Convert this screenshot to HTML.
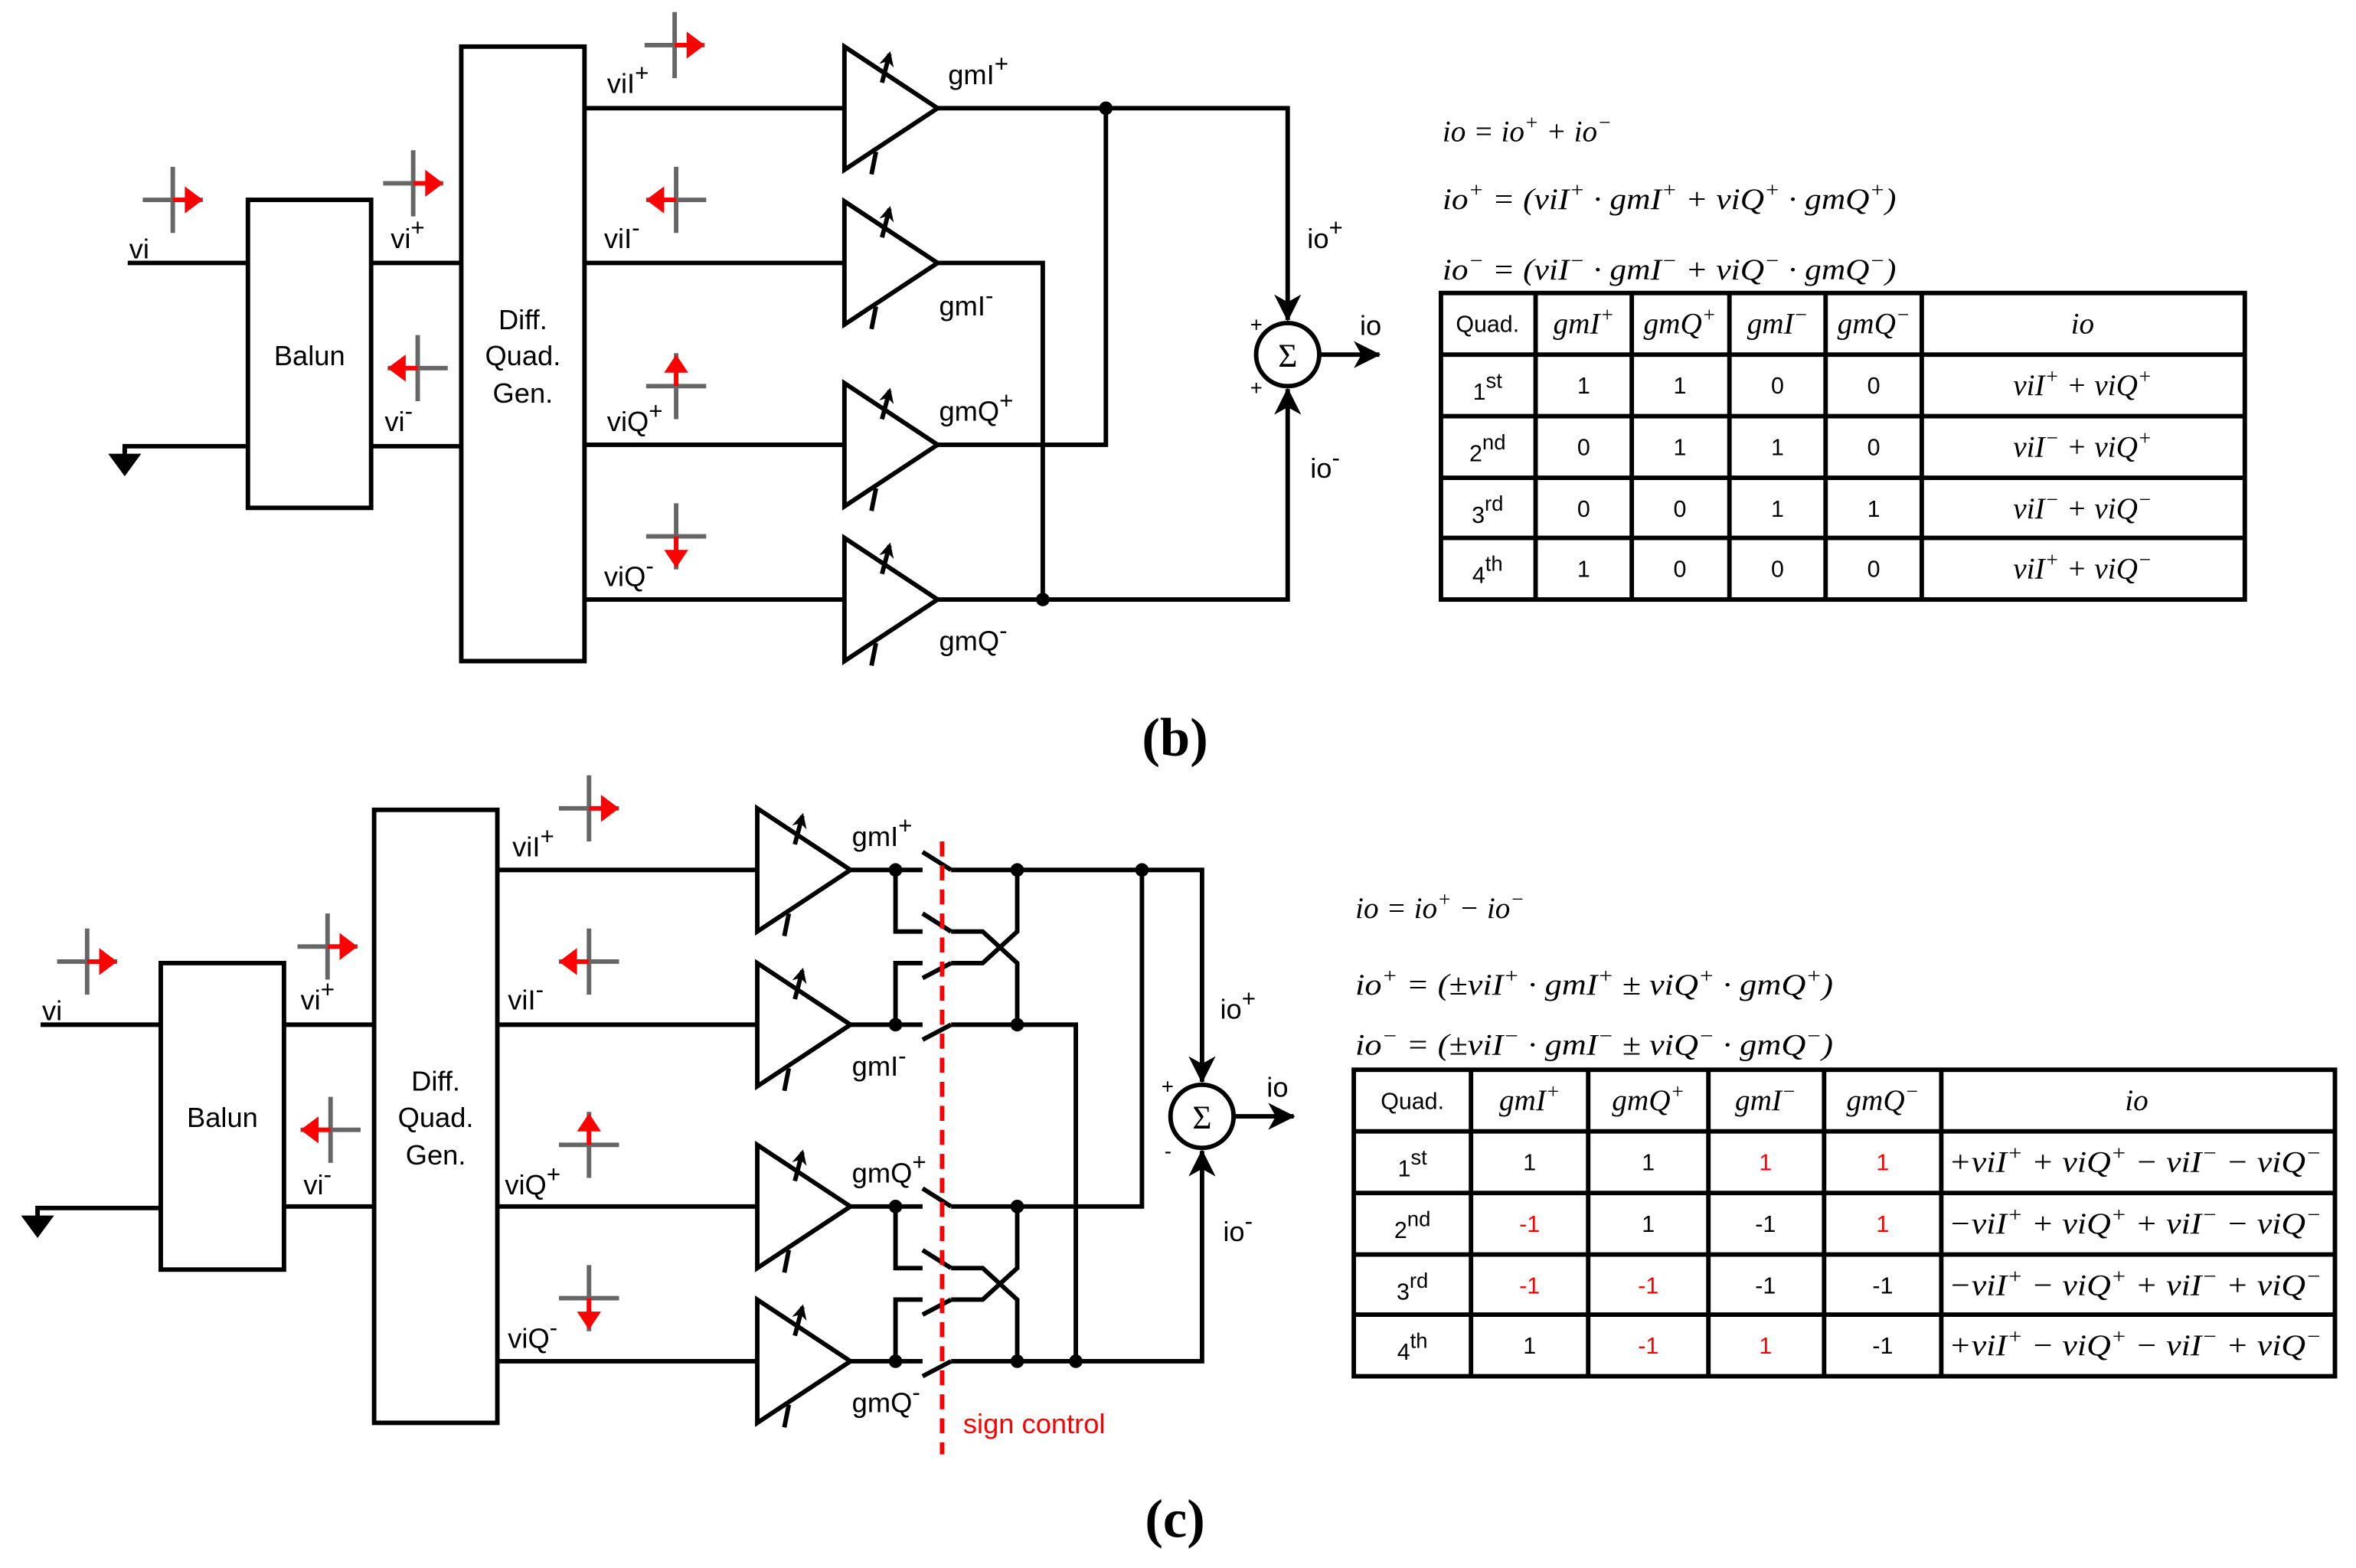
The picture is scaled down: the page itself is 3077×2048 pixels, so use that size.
<!DOCTYPE html>
<html><head><meta charset="utf-8"><style>
html,body{margin:0;padding:0;background:#fff;}
svg{display:block;}
.s{font-family:"Liberation Sans",sans-serif;}
.m{font-family:"Liberation Serif",serif;font-style:italic;}
</style></head><body>
<svg width="3077" height="2048" viewBox="0 0 1568 1043.6" xmlns="http://www.w3.org/2000/svg">
<defs>
<marker id="ah" markerWidth="10" markerHeight="10" refX="8" refY="5" orient="auto" markerUnits="userSpaceOnUse"><path d="M0,0 L10,5 L0,10 L3,5 Z" fill="#000"/></marker>
<marker id="ab" markerWidth="20" markerHeight="18" refX="17" refY="9" orient="auto" markerUnits="userSpaceOnUse"><path d="M0,0 L18,9 L0,18 L5,9 Z" fill="#000"/></marker>
<g id="amp">
<path d="M0,-41 L62,0 L0,41 Z" fill="#fff" stroke="#000" stroke-width="3"/>
<line x1="18" y1="44" x2="21" y2="29" stroke="#000" stroke-width="3"/>
<line x1="25" y1="-17" x2="30" y2="-36" stroke="#000" stroke-width="3" marker-end="url(#ah)"/>
</g>
<g id="xr"><line x1="-20" y1="0" x2="20" y2="0" stroke="#666" stroke-width="3"/><line x1="0" y1="-22" x2="0" y2="22" stroke="#666" stroke-width="3"/><line x1="0" y1="0" x2="10" y2="0" stroke="red" stroke-width="3"/><path d="M8,-9 L20,0 L8,9 Z" fill="red"/></g>
<g id="xl"><line x1="-20" y1="0" x2="20" y2="0" stroke="#666" stroke-width="3"/><line x1="0" y1="-22" x2="0" y2="22" stroke="#666" stroke-width="3"/><line x1="0" y1="0" x2="-10" y2="0" stroke="red" stroke-width="3"/><path d="M-8,-9 L-20,0 L-8,9 Z" fill="red"/></g>
<g id="xu"><line x1="-20" y1="0" x2="20" y2="0" stroke="#666" stroke-width="3"/><line x1="0" y1="-22" x2="0" y2="22" stroke="#666" stroke-width="3"/><line x1="0" y1="0" x2="0" y2="-10" stroke="red" stroke-width="3"/><path d="M-8,-9 L0,-21 L8,-9 Z" fill="red"/></g>
<g id="xd"><line x1="-20" y1="0" x2="20" y2="0" stroke="#666" stroke-width="3"/><line x1="0" y1="-22" x2="0" y2="22" stroke="#666" stroke-width="3"/><line x1="0" y1="0" x2="0" y2="10" stroke="red" stroke-width="3"/><path d="M-8,9 L0,21 L8,9 Z" fill="red"/></g>
<g id="gnd"><line x1="0" y1="0" x2="0" y2="-4" stroke="#000" stroke-width="3"/><path d="M-11,-1 L11,-1 L0,14 Z" fill="#000"/></g>
</defs>

<!-- ============ (b) ============ -->
<g stroke="#000" stroke-width="3" fill="none">
<line x1="85" y1="175" x2="165" y2="175"/>
<polyline points="165,297 83,297 83,301"/>
<rect x="165" y="133" width="82" height="205" fill="#fff"/>
<line x1="247" y1="175" x2="307" y2="175"/>
<line x1="247" y1="297" x2="307" y2="297"/>
<rect x="307" y="31" width="82" height="409" fill="#fff"/>
<line x1="389" y1="72" x2="562" y2="72"/>
<line x1="389" y1="175" x2="562" y2="175"/>
<line x1="389" y1="296" x2="562" y2="296"/>
<line x1="389" y1="399" x2="562" y2="399"/>
<polyline points="624,72 857,72 857,213" marker-end="url(#ab)"/>
<polyline points="624,296 736,296 736,72"/>
<polyline points="624,175 694,175 694,399"/>
<polyline points="624,399 857,399 857,259" marker-end="url(#ab)"/>
<circle cx="857" cy="236" r="21" fill="#fff"/>
<line x1="878" y1="236" x2="918" y2="236" marker-end="url(#ab)"/>
</g>
<use href="#gnd" x="83" y="303"/>
<circle cx="736" cy="72" r="4.5"/><circle cx="694" cy="399" r="4.5"/>
<use href="#amp" x="562" y="72"/><use href="#amp" x="562" y="175"/><use href="#amp" x="562" y="296"/><use href="#amp" x="562" y="399"/>
<use href="#xr" x="115" y="133"/><use href="#xr" x="275" y="122"/><use href="#xl" x="278" y="245"/>
<use href="#xr" x="449" y="30"/><use href="#xl" x="450" y="133"/><use href="#xu" x="450" y="257"/><use href="#xd" x="450" y="357"/>
<g class="s" font-size="18.5" fill="#000">
<text x="86" y="172">vi</text>
<text x="260" y="165">vi<tspan font-size="16" dy="-8">+</tspan></text>
<text x="256" y="287">vi<tspan font-size="16" dy="-8">-</tspan></text>
<text x="206" y="243" text-anchor="middle">Balun</text>
<text x="348" y="219" text-anchor="middle">Diff.</text>
<text x="348" y="243" text-anchor="middle">Quad.</text>
<text x="348" y="268" text-anchor="middle">Gen.</text>
<text x="404" y="62">viI<tspan font-size="16" dy="-8">+</tspan></text>
<text x="402" y="165">viI<tspan font-size="16" dy="-8">-</tspan></text>
<text x="404" y="287">viQ<tspan font-size="16" dy="-8">+</tspan></text>
<text x="402" y="390">viQ<tspan font-size="16" dy="-8">-</tspan></text>
<text x="631" y="56">gmI<tspan font-size="16" dy="-8">+</tspan></text>
<text x="625" y="210">gmI<tspan font-size="16" dy="-8">-</tspan></text>
<text x="625" y="280">gmQ<tspan font-size="16" dy="-8">+</tspan></text>
<text x="625" y="433">gmQ<tspan font-size="16" dy="-8">-</tspan></text>
<text x="870" y="165">io<tspan font-size="16" dy="-8">+</tspan></text>
<text x="872" y="318">io<tspan font-size="16" dy="-8">-</tspan></text>
<text x="905" y="223">io</text>
<text x="832" y="221" font-size="14">+</text>
<text x="832" y="263" font-size="14">+</text>
</g>
<text x="857" y="244" text-anchor="middle" font-family="Liberation Serif,serif" font-size="22">Σ</text>

<g class="m" font-size="20" fill="#000">
<text x="960" y="94">io = io<tspan font-size="14" dy="-8">+</tspan><tspan dy="8"> + io</tspan><tspan font-size="14" dy="-8">−</tspan></text>
<text x="960" y="139" textLength="302" lengthAdjust="spacingAndGlyphs">io<tspan font-size="14" dy="-8">+</tspan><tspan dy="8"> = (viI</tspan><tspan font-size="14" dy="-8">+</tspan><tspan dy="8"> · gmI</tspan><tspan font-size="14" dy="-8">+</tspan><tspan dy="8"> + viQ</tspan><tspan font-size="14" dy="-8">+</tspan><tspan dy="8"> · gmQ</tspan><tspan font-size="14" dy="-8">+</tspan><tspan dy="8">)</tspan></text>
<text x="960" y="186" textLength="302" lengthAdjust="spacingAndGlyphs">io<tspan font-size="14" dy="-8">−</tspan><tspan dy="8"> = (viI</tspan><tspan font-size="14" dy="-8">−</tspan><tspan dy="8"> · gmI</tspan><tspan font-size="14" dy="-8">−</tspan><tspan dy="8"> + viQ</tspan><tspan font-size="14" dy="-8">−</tspan><tspan dy="8"> · gmQ</tspan><tspan font-size="14" dy="-8">−</tspan><tspan dy="8">)</tspan></text>
</g>

<!-- table b -->
<g stroke="#000" stroke-width="3" fill="none">
<rect x="959" y="195" width="535" height="204"/>
<line x1="1022" y1="195" x2="1022" y2="399"/><line x1="1086" y1="195" x2="1086" y2="399"/><line x1="1151" y1="195" x2="1151" y2="399"/><line x1="1215" y1="195" x2="1215" y2="399"/><line x1="1279" y1="195" x2="1279" y2="399"/>
<line x1="959" y1="236" x2="1494" y2="236"/><line x1="959" y1="277" x2="1494" y2="277"/><line x1="959" y1="318" x2="1494" y2="318"/><line x1="959" y1="358" x2="1494" y2="358"/>
</g>
<g class="s" font-size="15.5" fill="#000" text-anchor="middle">
<text x="990" y="221">Quad.</text>
<text x="990" y="266">1<tspan font-size="14" dy="-8">st</tspan></text>
<text x="990" y="307">2<tspan font-size="14" dy="-8">nd</tspan></text>
<text x="990" y="348">3<tspan font-size="14" dy="-8">rd</tspan></text>
<text x="990" y="388">4<tspan font-size="14" dy="-8">th</tspan></text>
<text x="1054" y="262">1</text><text x="1118" y="262">1</text><text x="1183" y="262">0</text><text x="1247" y="262">0</text>
<text x="1054" y="303">0</text><text x="1118" y="303">1</text><text x="1183" y="303">1</text><text x="1247" y="303">0</text>
<text x="1054" y="344">0</text><text x="1118" y="344">0</text><text x="1183" y="344">1</text><text x="1247" y="344">1</text>
<text x="1054" y="384">1</text><text x="1118" y="384">0</text><text x="1183" y="384">0</text><text x="1247" y="384">0</text>
</g>
<g class="m" font-size="20" fill="#000" text-anchor="middle">
<text x="1054" y="222">gmI<tspan font-size="14" dy="-8">+</tspan></text>
<text x="1118" y="222">gmQ<tspan font-size="14" dy="-8">+</tspan></text>
<text x="1183" y="222">gmI<tspan font-size="14" dy="-8">−</tspan></text>
<text x="1247" y="222">gmQ<tspan font-size="14" dy="-8">−</tspan></text>
<text x="1386" y="222">io</text>
<text x="1386" y="263">viI<tspan font-size="14" dy="-8">+</tspan><tspan dy="8"> + viQ</tspan><tspan font-size="14" dy="-8">+</tspan></text>
<text x="1386" y="304">viI<tspan font-size="14" dy="-8">−</tspan><tspan dy="8"> + viQ</tspan><tspan font-size="14" dy="-8">+</tspan></text>
<text x="1386" y="345">viI<tspan font-size="14" dy="-8">−</tspan><tspan dy="8"> + viQ</tspan><tspan font-size="14" dy="-8">−</tspan></text>
<text x="1386" y="385">viI<tspan font-size="14" dy="-8">+</tspan><tspan dy="8"> + viQ</tspan><tspan font-size="14" dy="-8">−</tspan></text>
</g>
<text x="782" y="503" text-anchor="middle" font-family="Liberation Serif,serif" font-size="36" font-weight="bold">(b)</text>

<!-- ============ (c) ============ -->
<g stroke="#000" stroke-width="3" fill="none">
<line x1="27" y1="682" x2="107" y2="682"/>
<polyline points="107,804 25,804 25,808"/>
<rect x="107" y="641" width="82" height="204" fill="#fff"/>
<line x1="189" y1="682" x2="249" y2="682"/>
<line x1="189" y1="803" x2="249" y2="803"/>
<rect x="249" y="539" width="82" height="408" fill="#fff"/>
<line x1="331" y1="579" x2="504" y2="579"/>
<line x1="331" y1="682" x2="504" y2="682"/>
<line x1="331" y1="803" x2="504" y2="803"/>
<line x1="331" y1="906" x2="504" y2="906"/>
<line x1="566" y1="579" x2="614" y2="579"/><line x1="614" y1="567" x2="633" y2="579"/>
<polyline points="633,579 800,579 800,720" marker-end="url(#ab)"/>
<polyline points="596,579 596,620 614,620"/><line x1="614" y1="608" x2="633" y2="620"/>
<polyline points="633,620 654,620 677,641 677,682"/>
<polyline points="596,682 596,641 614,641"/><line x1="614" y1="651" x2="633" y2="641"/>
<polyline points="633,641 654,641 677,620 677,579"/>
<line x1="566" y1="682" x2="614" y2="682"/><line x1="614" y1="692" x2="633" y2="682"/>
<polyline points="633,682 716,682 716,906"/>
<line x1="566" y1="803" x2="614" y2="803"/><line x1="614" y1="791" x2="633" y2="803"/>
<polyline points="633,803 760,803 760,579"/>
<polyline points="596,803 596,844 614,844"/><line x1="614" y1="832" x2="633" y2="844"/>
<polyline points="633,844 654,844 677,865 677,906"/>
<polyline points="596,906 596,865 614,865"/><line x1="614" y1="875" x2="633" y2="865"/>
<polyline points="633,865 654,865 677,844 677,803"/>
<line x1="566" y1="906" x2="614" y2="906"/><line x1="614" y1="916" x2="633" y2="906"/>
<polyline points="633,906 800,906 800,766" marker-end="url(#ab)"/>
<circle cx="800" cy="743" r="21" fill="#fff"/>
<line x1="821" y1="743" x2="861" y2="743" marker-end="url(#ab)"/>
</g>
<line x1="627" y1="560" x2="627" y2="968" stroke="red" stroke-width="3" stroke-dasharray="10,6"/>
<use href="#gnd" x="25" y="810"/>
<g fill="#000">
<circle cx="596" cy="579" r="4.5"/><circle cx="677" cy="579" r="4.5"/><circle cx="760" cy="579" r="4.5"/>
<circle cx="596" cy="682" r="4.5"/><circle cx="677" cy="682" r="4.5"/>
<circle cx="596" cy="803" r="4.5"/><circle cx="677" cy="803" r="4.5"/>
<circle cx="596" cy="906" r="4.5"/><circle cx="677" cy="906" r="4.5"/><circle cx="716" cy="906" r="4.5"/>
</g>
<use href="#amp" x="504" y="579"/><use href="#amp" x="504" y="682"/><use href="#amp" x="504" y="803"/><use href="#amp" x="504" y="906"/>
<use href="#xr" x="58" y="640"/><use href="#xr" x="218" y="630"/><use href="#xl" x="220" y="752"/>
<use href="#xr" x="392" y="538"/><use href="#xl" x="392" y="640"/><use href="#xu" x="392" y="762"/><use href="#xd" x="392" y="864"/>
<g class="s" font-size="18.5" fill="#000">
<text x="28" y="679">vi</text>
<text x="200" y="672">vi<tspan font-size="16" dy="-8">+</tspan></text>
<text x="202" y="795">vi<tspan font-size="16" dy="-8">-</tspan></text>
<text x="148" y="750" text-anchor="middle">Balun</text>
<text x="290" y="726" text-anchor="middle">Diff.</text>
<text x="290" y="750" text-anchor="middle">Quad.</text>
<text x="290" y="775" text-anchor="middle">Gen.</text>
<text x="341" y="570">viI<tspan font-size="16" dy="-8">+</tspan></text>
<text x="338" y="672">viI<tspan font-size="16" dy="-8">-</tspan></text>
<text x="336" y="795">viQ<tspan font-size="16" dy="-8">+</tspan></text>
<text x="338" y="897">viQ<tspan font-size="16" dy="-8">-</tspan></text>
<text x="567" y="563">gmI<tspan font-size="16" dy="-8">+</tspan></text>
<text x="567" y="716">gmI<tspan font-size="16" dy="-8">-</tspan></text>
<text x="567" y="787">gmQ<tspan font-size="16" dy="-8">+</tspan></text>
<text x="567" y="940">gmQ<tspan font-size="16" dy="-8">-</tspan></text>
<text x="812" y="678">io<tspan font-size="16" dy="-8">+</tspan></text>
<text x="814" y="826">io<tspan font-size="16" dy="-8">-</tspan></text>
<text x="843" y="730">io</text>
<text x="773" y="728" font-size="14">+</text>
<text x="775" y="771" font-size="14">-</text>
<text x="641" y="954" fill="red">sign control</text>
</g>
<text x="800" y="751" text-anchor="middle" font-family="Liberation Serif,serif" font-size="22">Σ</text>

<g class="m" font-size="20" fill="#000">
<text x="902" y="611">io = io<tspan font-size="14" dy="-8">+</tspan><tspan dy="8"> − io</tspan><tspan font-size="14" dy="-8">−</tspan></text>
<text x="902" y="662" textLength="318" lengthAdjust="spacingAndGlyphs">io<tspan font-size="14" dy="-8">+</tspan><tspan dy="8"> = (±viI</tspan><tspan font-size="14" dy="-8">+</tspan><tspan dy="8"> · gmI</tspan><tspan font-size="14" dy="-8">+</tspan><tspan dy="8"> ± viQ</tspan><tspan font-size="14" dy="-8">+</tspan><tspan dy="8"> · gmQ</tspan><tspan font-size="14" dy="-8">+</tspan><tspan dy="8">)</tspan></text>
<text x="902" y="702" textLength="318" lengthAdjust="spacingAndGlyphs">io<tspan font-size="14" dy="-8">−</tspan><tspan dy="8"> = (±viI</tspan><tspan font-size="14" dy="-8">−</tspan><tspan dy="8"> · gmI</tspan><tspan font-size="14" dy="-8">−</tspan><tspan dy="8"> ± viQ</tspan><tspan font-size="14" dy="-8">−</tspan><tspan dy="8"> · gmQ</tspan><tspan font-size="14" dy="-8">−</tspan><tspan dy="8">)</tspan></text>
</g>

<!-- table c -->
<g stroke="#000" stroke-width="3" fill="none">
<rect x="901" y="712" width="653" height="204"/>
<line x1="979" y1="712" x2="979" y2="916"/><line x1="1057" y1="712" x2="1057" y2="916"/><line x1="1137" y1="712" x2="1137" y2="916"/><line x1="1214" y1="712" x2="1214" y2="916"/><line x1="1292" y1="712" x2="1292" y2="916"/>
<line x1="901" y1="753" x2="1554" y2="753"/><line x1="901" y1="794" x2="1554" y2="794"/><line x1="901" y1="835" x2="1554" y2="835"/><line x1="901" y1="875" x2="1554" y2="875"/>
</g>
<g class="s" font-size="15.5" fill="#000" text-anchor="middle">
<text x="940" y="738">Quad.</text>
<text x="940" y="783">1<tspan font-size="14" dy="-8">st</tspan></text>
<text x="940" y="824">2<tspan font-size="14" dy="-8">nd</tspan></text>
<text x="940" y="865">3<tspan font-size="14" dy="-8">rd</tspan></text>
<text x="940" y="905">4<tspan font-size="14" dy="-8">th</tspan></text>
<text x="1018" y="779">1</text><text x="1097" y="779">1</text><text x="1175" y="779" fill="red">1</text><text x="1253" y="779" fill="red">1</text>
<text x="1018" y="820" fill="red">-1</text><text x="1097" y="820">1</text><text x="1175" y="820">-1</text><text x="1253" y="820" fill="red">1</text>
<text x="1018" y="861" fill="red">-1</text><text x="1097" y="861" fill="red">-1</text><text x="1175" y="861">-1</text><text x="1253" y="861">-1</text>
<text x="1018" y="901">1</text><text x="1097" y="901" fill="red">-1</text><text x="1175" y="901" fill="red">1</text><text x="1253" y="901">-1</text>
</g>
<g class="m" font-size="20" fill="#000">
<g text-anchor="middle">
<text x="1018" y="739">gmI<tspan font-size="14" dy="-8">+</tspan></text>
<text x="1097" y="739">gmQ<tspan font-size="14" dy="-8">+</tspan></text>
<text x="1175" y="739">gmI<tspan font-size="14" dy="-8">−</tspan></text>
<text x="1253" y="739">gmQ<tspan font-size="14" dy="-8">−</tspan></text>
<text x="1422" y="739">io</text>
</g>
<text x="1297" y="780" textLength="248" lengthAdjust="spacingAndGlyphs">+viI<tspan font-size="14" dy="-8">+</tspan><tspan dy="8"> + viQ</tspan><tspan font-size="14" dy="-8">+</tspan><tspan dy="8"> − viI</tspan><tspan font-size="14" dy="-8">−</tspan><tspan dy="8"> − viQ</tspan><tspan font-size="14" dy="-8">−</tspan></text>
<text x="1297" y="821" textLength="248" lengthAdjust="spacingAndGlyphs">−viI<tspan font-size="14" dy="-8">+</tspan><tspan dy="8"> + viQ</tspan><tspan font-size="14" dy="-8">+</tspan><tspan dy="8"> + viI</tspan><tspan font-size="14" dy="-8">−</tspan><tspan dy="8"> − viQ</tspan><tspan font-size="14" dy="-8">−</tspan></text>
<text x="1297" y="862" textLength="248" lengthAdjust="spacingAndGlyphs">−viI<tspan font-size="14" dy="-8">+</tspan><tspan dy="8"> − viQ</tspan><tspan font-size="14" dy="-8">+</tspan><tspan dy="8"> + viI</tspan><tspan font-size="14" dy="-8">−</tspan><tspan dy="8"> + viQ</tspan><tspan font-size="14" dy="-8">−</tspan></text>
<text x="1297" y="902" textLength="248" lengthAdjust="spacingAndGlyphs">+viI<tspan font-size="14" dy="-8">+</tspan><tspan dy="8"> − viQ</tspan><tspan font-size="14" dy="-8">+</tspan><tspan dy="8"> − viI</tspan><tspan font-size="14" dy="-8">−</tspan><tspan dy="8"> + viQ</tspan><tspan font-size="14" dy="-8">−</tspan></text>
</g>
<text x="782" y="1023" text-anchor="middle" font-family="Liberation Serif,serif" font-size="36" font-weight="bold">(c)</text>
</svg>
</body></html>
